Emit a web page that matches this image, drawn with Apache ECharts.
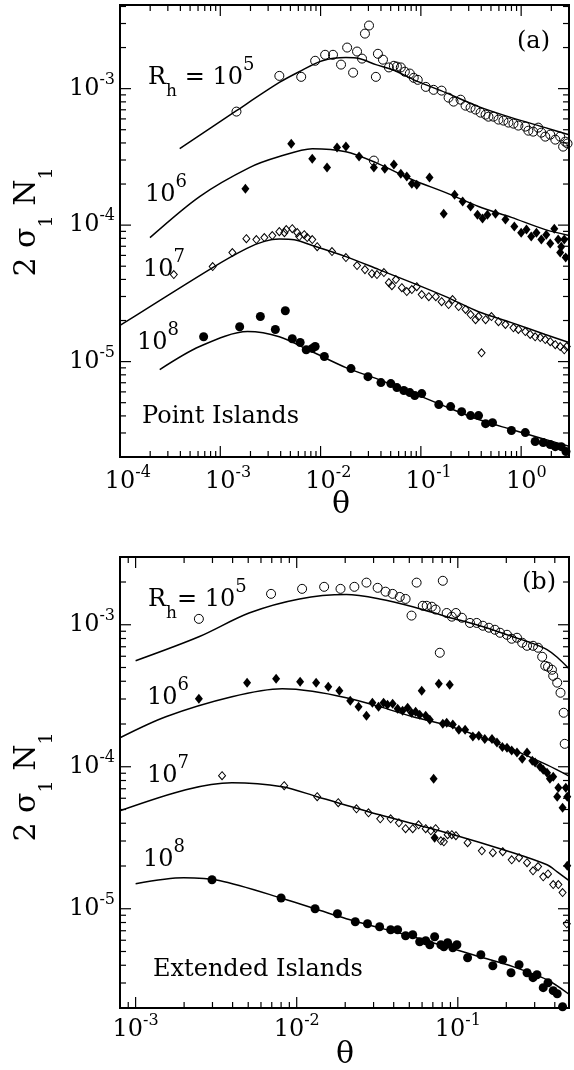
<!DOCTYPE html>
<html>
<head>
<meta charset="utf-8">
<script src="https://cdn.jsdelivr.net/npm/echarts@6/dist/echarts.min.js"></script>
<style>
  html, body { margin: 0; padding: 0; background: #fff; }
  #chart { width: 574px; height: 1070px; }
</style>
</head>
<body>
<div id="chart"></div>
<script>
// ---------- Panel (a): point islands ----------
const pointRh5 = [[1.45e-3,6.79e-4],[3.88e-3,1.24e-3],[6.41e-3,1.22e-3],[8.83e-3,1.60e-3],[1.11e-2,1.77e-3],[1.33e-2,1.77e-3],[1.60e-2,1.50e-3],[1.84e-2,2.0e-3],[2.11e-2,1.31e-3],[2.31e-2,1.87e-3],[2.59e-2,1.66e-3],[2.77e-2,2.53e-3],[3.04e-2,2.90e-3],[3.40e-2,2.97e-4],[3.56e-2,1.22e-3],[3.73e-2,1.80e-3],[4.19e-2,1.63e-3],[4.80e-2,1.43e-3],[5.38e-2,1.47e-3],[5.77e-2,1.45e-3],[6.31e-2,1.43e-3],[6.92e-2,1.33e-3],[7.76e-2,1.29e-3],[8.49e-2,1.20e-3],[9.31e-2,1.16e-3],[0.112,1.03e-3],[0.134,9.8e-4],[0.161,9.67e-4],[0.189,8.59e-4],[0.212,8.03e-4],[0.249,8.3e-4],[0.279,7.5e-4],[0.313,7.26e-4],[0.351,7.02e-4],[0.394,6.67e-4],[0.442,6.45e-4],[0.472,6.23e-4],[0.530,6.23e-4],[0.594,5.93e-4],[0.666,5.83e-4],[0.747,5.64e-4],[0.838,5.54e-4],[0.938,5.36e-4],[1.10,5.27e-4],[1.18,4.92e-4],[1.32,4.84e-4],[1.48,5.18e-4],[1.59,4.76e-4],[1.74,4.45e-4],[1.95,4.6e-4],[2.19,4.23e-4],[2.45,4.45e-4],[2.62,3.76e-4],[2.75,4.09e-4],[2.9,3.96e-4]];
const fitRh5 = [[3.94e-4,3.63e-4],[1.45e-3,6.9e-4],[3.88e-3,1.11e-3],[6.12e-3,1.33e-3],[1.04e-2,1.60e-3],[1.79e-2,1.69e-3],[2.42e-2,1.66e-3],[3.56e-2,1.50e-3],[5.14e-2,1.38e-3],[9.53e-2,1.12e-3],[0.177,9.35e-4],[0.376,7.38e-4],[0.80,6.13e-4],[1.74,5.18e-4],[3.0,4.6e-4]];

const pointRh6 = [[1.78e-3,1.85e-4],[5.1e-3,3.95e-4],[8.26e-3,3.07e-4],[1.16e-2,2.64e-4],[1.46e-2,3.70e-4],[1.79e-2,3.76e-4],[2.42e-2,3.18e-4],[3.40e-2,2.64e-4],[4.37e-2,2.59e-4],[5.38e-2,2.78e-4],[6.31e-2,2.38e-4],[7.24e-2,2.27e-4],[8.13e-2,2.01e-4],[9.1e-2,1.98e-4],[0.122,2.23e-4],[0.169,1.21e-4],[0.217,1.67e-4],[0.261,1.49e-4],[0.313,1.37e-4],[0.367,1.19e-4],[0.412,1.12e-4],[0.461,1.19e-4],[0.555,1.21e-4],[0.697,1.10e-4],[0.855,9.75e-5],[1.00,8.81e-5],[1.13,9.27e-5],[1.26,8.24e-5],[1.42,8.81e-5],[1.59,7.83e-5],[1.78,8.51e-5],[1.95,7.32e-5],[2.14,9.42e-5],[2.34,7.83e-5],[2.51,6.95e-5],[2.69,7.83e-5],[2.45,6.29e-5],[2.78,5.78e-5]];
const fitRh6 = [[1.99e-4,8.1e-5],[6.22e-4,1.62e-4],[1.95e-3,2.64e-4],[3.88e-3,3.18e-4],[8.26e-3,3.63e-4],[1.79e-2,3.45e-4],[3.56e-2,2.87e-4],[8.13e-2,2.16e-4],[0.177,1.73e-4],[0.376,1.37e-4],[0.80,1.14e-4],[1.74,9.27e-5],[3.0,8.4e-5]];

const pointRh7 = [[3.44e-4,4.34e-5],[8.4e-4,4.97e-5],[1.32e-3,6.29e-5],[1.82e-3,7.96e-5],[2.29e-3,7.83e-5],[2.75e-3,8.1e-5],[3.30e-3,8.38e-5],[3.88e-3,8.96e-5],[4.36e-3,8.81e-5],[4.55e-3,9.27e-5],[5.22e-3,9.42e-5],[5.86e-3,8.81e-5],[6.12e-3,8.24e-5],[6.87e-3,8.51e-5],[7.36e-3,8.1e-5],[8.26e-3,7.83e-5],[9.25e-3,6.95e-5],[1.30e-2,6.4e-5],[1.79e-2,5.78e-5],[2.31e-2,5.05e-5],[2.77e-2,4.72e-5],[3.25e-2,4.41e-5],[3.65e-2,4.34e-5],[4.28e-2,4.49e-5],[4.80e-2,3.79e-5],[5.14e-2,3.6e-5],[5.64e-2,3.99e-5],[6.46e-2,3.48e-5],[7.24e-2,3.26e-5],[8.13e-2,3.37e-5],[9.1e-2,3.54e-5],[0.102,3.1e-5],[0.120,2.99e-5],[0.141,2.99e-5],[0.161,2.75e-5],[0.189,2.62e-5],[0.207,2.85e-5],[0.238,2.53e-5],[0.279,2.41e-5],[0.313,2.21e-5],[0.351,2.03e-5],[0.376,2.14e-5],[0.442,2.03e-5],[0.506,2.14e-5],[0.594,1.96e-5],[0.697,1.87e-5],[0.838,1.77e-5],[0.938,1.72e-5],[1.10,1.66e-5],[1.23,1.58e-5],[1.38,1.52e-5],[1.55,1.5e-5],[1.74,1.45e-5],[1.95,1.40e-5],[2.19,1.33e-5],[2.45,1.29e-5],[2.69,1.22e-5],[2.85,1.29e-5],[0.403,1.16e-5]];
const fitRh7 = [[1e-4,1.84e-5],[8.4e-4,4.89e-5],[1.82e-3,6.73e-5],[2.75e-3,7.6e-5],[3.88e-3,7.9e-5],[5.47e-3,7.8e-5],[8.26e-3,7.1e-5],[1.79e-2,5.88e-5],[3.82e-2,4.72e-5],[8.13e-2,3.79e-5],[0.177,2.99e-5],[0.376,2.32e-5],[0.80,1.93e-5],[1.74,1.58e-5],[3.0,1.38e-5]];

const pointRh8 = [[6.82e-4,1.52e-5],[1.56e-3,1.80e-5],[2.51e-3,2.14e-5],[3.54e-3,1.72e-5],[4.45e-3,2.36e-5],[5.22e-3,1.47e-5],[6.26e-3,1.38e-5],[7.19e-3,1.22e-5],[8.26e-3,1.25e-5],[8.83e-3,1.29e-5],[1.09e-2,1.09e-5],[2.01e-2,8.89e-6],[2.97e-2,7.76e-6],[4.0e-2,7.02e-6],[5.02e-2,6.9e-6],[5.77e-2,6.45e-6],[6.76e-2,6.14e-6],[7.76e-2,5.93e-6],[8.69e-2,5.64e-6],[0.102,5.83e-6],[0.151,4.84e-6],[0.198,4.68e-6],[0.255,4.3e-6],[0.313,4.02e-6],[0.376,4.02e-6],[0.442,3.51e-6],[0.518,3.57e-6],[0.80,3.13e-6],[1.10,3.02e-6],[1.38,2.6e-6],[1.66,2.55e-6],[1.95,2.47e-6],[2.19,2.38e-6],[2.51,2.38e-6],[2.8,2.19e-6]];
const fitRh8 = [[2.49e-4,8.74e-6],[6.22e-4,1.29e-5],[1.87e-3,1.66e-5],[3.88e-3,1.52e-5],[8.26e-3,1.18e-5],[1.79e-2,9.04e-6],[3.82e-2,7.38e-6],[8.13e-2,5.93e-6],[0.177,4.68e-6],[0.376,3.76e-6],[0.80,3.18e-6],[1.74,2.69e-6],[3.0,2.4e-6]];

// ---------- Panel (b): extended islands ----------
const extRh5 = [[2.47e-3,1.10e-3],[6.93e-3,1.65e-3],[1.08e-2,1.79e-3],[1.48e-2,1.85e-3],[1.87e-2,1.79e-3],[2.28e-2,1.85e-3],[2.71e-2,1.98e-3],[3.18e-2,1.82e-3],[3.56e-2,1.71e-3],[3.94e-2,1.65e-3],[4.36e-2,1.57e-3],[4.74e-2,1.52e-3],[5.16e-2,1.16e-3],[5.55e-2,1.98e-3],[6.06e-2,1.36e-3],[6.41e-2,1.36e-3],[6.90e-2,1.34e-3],[7.28e-2,1.28e-3],[7.73e-2,6.35e-4],[8.07e-2,2.04e-3],[8.53e-2,1.21e-3],[9.18e-2,1.14e-3],[9.73e-2,1.21e-3],[0.106,1.12e-3],[0.119,1.03e-3],[0.131,1.03e-3],[0.143,9.84e-4],[0.156,9.53e-4],[0.170,9.22e-4],[0.183,8.78e-4],[0.202,8.5e-4],[0.216,7.97e-4],[0.233,8.1e-4],[0.251,7.47e-4],[0.269,7.11e-4],[0.293,7.11e-4],[0.315,6.89e-4],[0.334,5.95e-4],[0.349,5.14e-4],[0.363,5.06e-4],[0.384,4.82e-4],[0.391,4.37e-4],[0.414,3.91e-4],[0.434,3.32e-4],[0.454,2.40e-4],[0.461,1.45e-4]];
const extFitRh5 = [[1.0e-3,5.58e-4],[2.47e-3,8.23e-4],[5.06e-3,1.21e-3],[1.04e-2,1.52e-3],[2.03e-2,1.63e-3],[3.27e-2,1.52e-3],[5.25e-2,1.34e-3],[8.53e-2,1.14e-3],[0.137,9.84e-4],[0.220,8.23e-4],[0.300,7.3e-4],[0.358,6.67e-4],[0.414,5.9e-4],[0.49,4.9e-4]];

const extRh6 = [[2.47e-3,3.01e-4],[4.92e-3,3.91e-4],[7.45e-3,4.17e-4],[1.05e-2,3.97e-4],[1.32e-2,3.91e-4],[1.57e-2,3.66e-4],[1.84e-2,3.43e-4],[2.15e-2,2.92e-4],[2.42e-2,2.65e-4],[2.71e-2,2.29e-4],[2.95e-2,2.82e-4],[3.22e-2,2.65e-4],[3.46e-2,2.82e-4],[3.66e-2,2.73e-4],[3.94e-2,2.78e-4],[4.23e-2,2.56e-4],[4.54e-2,2.48e-4],[4.88e-2,2.60e-4],[5.16e-2,2.40e-4],[5.47e-2,2.44e-4],[5.8e-2,2.32e-4],[5.97e-2,3.43e-4],[6.32e-2,2.29e-4],[6.70e-2,2.14e-4],[7.08e-2,8.23e-5],[7.18e-2,3.16e-5],[7.62e-2,3.84e-4],[8.07e-2,2.01e-4],[8.53e-2,2.04e-4],[8.91e-2,3.78e-4],[9.31e-2,1.98e-4],[0.1015,1.82e-4],[0.111,1.82e-4],[0.124,1.63e-4],[0.135,1.65e-4],[0.147,1.57e-4],[0.163,1.57e-4],[0.175,1.48e-4],[0.189,1.38e-4],[0.202,1.36e-4],[0.216,1.30e-4],[0.233,1.26e-4],[0.251,1.14e-4],[0.269,1.26e-4],[0.290,1.10e-4],[0.302,1.07e-4],[0.324,1.0e-4],[0.339,9.52e-5],[0.358,9.08e-5],[0.373,8.23e-5],[0.391,8.51e-5],[0.421,7.11e-5],[0.414,6.15e-5],[0.468,7.11e-5],[0.478,6.15e-5],[0.447,5.14e-5],[0.478,2.01e-5]];
const extFitRh6 = [[8e-4,1.60e-4],[1.54e-3,2.25e-4],[3.96e-3,3.11e-4],[8.13e-3,3.54e-4],[1.25e-2,3.40e-4],[2.03e-2,3.06e-4],[3.27e-2,2.65e-4],[5.25e-2,2.25e-4],[8.53e-2,1.96e-4],[0.137,1.63e-4],[0.220,1.32e-4],[0.358,1.03e-4],[0.49,8.6e-5]];

const extRh7 = [[3.44e-3,8.65e-5],[8.36e-3,7.35e-5],[1.34e-2,6.15e-5],[1.81e-2,5.58e-5],[2.35e-2,5.06e-5],[2.79e-2,4.74e-5],[3.30e-2,4.3e-5],[3.83e-2,4.3e-5],[4.31e-2,4.03e-5],[4.74e-2,3.66e-5],[5.25e-2,3.66e-5],[5.71e-2,3.9e-5],[6.32e-2,3.66e-5],[6.80e-2,3.54e-5],[7.28e-2,3.66e-5],[7.85e-2,3.01e-5],[8.19e-2,2.96e-5],[8.65e-2,3.32e-5],[9.18e-2,3.32e-5],[9.73e-2,3.27e-5],[0.115,2.92e-5],[0.141,2.56e-5],[0.165,2.48e-5],[0.190,2.52e-5],[0.216,2.21e-5],[0.240,2.29e-5],[0.269,2.11e-5],[0.293,1.85e-5],[0.315,1.98e-5],[0.339,1.68e-5],[0.363,1.76e-5],[0.391,1.48e-5],[0.421,1.48e-5],[0.447,1.30e-5],[0.475,7.84e-6]];
const extFitRh7 = [[8e-4,4.9e-5],[2.05e-3,6.89e-5],[3.96e-3,7.71e-5],[8.13e-3,7.23e-5],[1.34e-2,6.15e-5],[3.27e-2,4.59e-5],[8.53e-2,3.43e-5],[0.220,2.48e-5],[0.358,2.04e-5],[0.414,1.82e-5],[0.49,1.58e-5]];

const extRh8 = [[2.98e-3,1.60e-5],[8.0e-3,1.19e-5],[1.30e-2,1.0e-5],[1.79e-2,9.22e-6],[2.31e-2,8.1e-6],[2.75e-2,7.84e-6],[3.27e-2,7.47e-6],[3.83e-2,7.11e-6],[4.23e-2,7.11e-6],[4.74e-2,6.45e-6],[5.25e-2,6.56e-6],[5.8e-2,5.86e-6],[6.32e-2,5.95e-6],[6.70e-2,5.58e-6],[7.18e-2,6.35e-6],[7.85e-2,5.58e-6],[8.19e-2,5.4e-6],[8.65e-2,5.77e-6],[9.31e-2,5.31e-6],[9.87e-2,5.58e-6],[0.115,4.52e-6],[0.139,4.74e-6],[0.165,3.97e-6],[0.190,4.37e-6],[0.214,3.54e-6],[0.240,4.03e-6],[0.269,3.54e-6],[0.293,3.27e-6],[0.310,3.43e-6],[0.339,2.78e-6],[0.363,3.01e-6],[0.391,2.65e-6],[0.414,2.52e-6],[0.447,2.04e-6]];
const extFitRh8 = [[1.0e-3,1.50e-5],[1.99e-3,1.65e-5],[3.3e-3,1.58e-5],[8.0e-3,1.19e-5],[2.03e-2,8.51e-6],[5.25e-2,6.35e-6],[0.137,4.59e-6],[0.220,3.91e-6],[0.358,3.16e-6],[0.49,2.5e-6]];

// Axis ranges
const rangeA = { x: [1e-4, 3], y: [2e-6, 4.1e-3] };
const rangeB = { x: [8e-4, 0.49], y: [2e-6, 3e-3] };
const minorSteps = [2, 3, 4, 5, 6, 7, 8, 9];

const F = 'DejaVu Serif';

// Major (decade) and minor (2..9 x decade) tick values inside a log range
function logTicks(lo, hi) {
  const out = [];
  for (let e = Math.floor(Math.log10(lo)); e <= Math.ceil(Math.log10(hi)); e++) {
    const base = Math.pow(10, e);
    if (base >= lo * 0.9999 && base <= hi * 1.0001) out.push([base, 1]);
    minorSteps.forEach(function (m) {
      const v = m * base;
      if (v > lo * 1.0001 && v < hi * 0.9999) out.push([v, 0]);
    });
  }
  return out;
}

function tickData(r) {
  const d = [];
  logTicks(r.x[0], r.x[1]).forEach(function (t) { d.push([t[0], r.y[0], 0, t[1]]); });
  logTicks(r.y[0], r.y[1]).forEach(function (t) { d.push([r.x[0], t[0], 1, t[1]]); });
  return d;
}

function renderTick(params, api) {
  const cs = params.coordSys;
  const kind = api.value(2);
  const len = api.value(3) ? 11 : 6;
  const st = { stroke: '#000', lineWidth: 1.2 };
  const p = api.coord([api.value(0), api.value(1)]);
  if (kind === 0) {
    const x = p[0];
    const yb = cs.y + cs.height, yt = cs.y;
    return { type: 'group', children: [
      { type: 'line', shape: { x1: x, y1: yb, x2: x, y2: yb - len }, style: st },
      { type: 'line', shape: { x1: x, y1: yt, x2: x, y2: yt + len }, style: st }
    ] };
  }
  const y = p[1];
  const xl = cs.x, xr = cs.x + cs.width;
  return { type: 'group', children: [
    { type: 'line', shape: { x1: xl, y1: y, x2: xl + len, y2: y }, style: st },
    { type: 'line', shape: { x1: xr, y1: y, x2: xr - len, y2: y }, style: st }
  ] };
}

function isDecade(v) {
  const l = Math.log10(v);
  return Math.abs(l - Math.round(l)) < 1e-6;
}

const tickRich = {
  b: { fontFamily: F, fontSize: 24, lineHeight: 34, color: '#000' },
  p: { fontFamily: F, fontSize: 16, lineHeight: 20, color: '#000', verticalAlign: 'top' },
  q: { fontFamily: F, fontSize: 16, lineHeight: 20, color: 'rgba(0,0,0,0)', verticalAlign: 'top' }
};

function yLabel(v) {
  if (!isDecade(v)) return '';
  return '{b|10}{p|' + Math.round(Math.log10(v)) + '}';
}
function xLabelA(v) {
  if (!isDecade(v)) return '';
  const e = Math.round(Math.log10(v));
  return '{q|' + e + '}{b|10}{p|' + e + '}';
}

function logAxis(gridIndex, r, formatter, margin) {
  return {
    type: 'log', logBase: 10, gridIndex: gridIndex, min: r[0], max: r[1],
    axisLine: { show: false }, axisTick: { show: false }, splitLine: { show: false },
    axisLabel: { formatter: formatter, rich: tickRich, margin: margin }
  };
}

const openStyle = { color: 'rgba(0,0,0,0)', borderColor: '#000', borderWidth: 1, opacity: 1 };
const fillStyle = { color: '#000', opacity: 1 };

function dots(grid, data, symbol, size, style) {
  return { type: 'scatter', xAxisIndex: grid, yAxisIndex: grid, data: data, symbol: symbol,
    symbolSize: size, itemStyle: style, silent: true, z: 4 };
}
function fit(grid, data) {
  return { type: 'line', xAxisIndex: grid, yAxisIndex: grid, data: data, smooth: 0.3,
    showSymbol: false, symbol: 'none', silent: true, z: 3,
    lineStyle: { color: '#000', width: 1.5 } };
}
function ticks(grid, r) {
  return { type: 'custom', xAxisIndex: grid, yAxisIndex: grid, data: tickData(r),
    renderItem: renderTick, silent: true, z: 5, clip: false };
}

const noteRich = {
  m: { fontFamily: F, fontSize: 24, lineHeight: 44, color: '#000' },
  sup: { fontFamily: F, fontSize: 18, lineHeight: 32, verticalAlign: 'top', color: '#000' },
  sub: { fontFamily: F, fontSize: 17, lineHeight: 16, verticalAlign: 'bottom', color: '#000' }
};
function note(x, y, text, align) {
  return { type: 'text', x: x, y: y, silent: true, z: 10,
    style: { text: text, rich: noteRich, fontFamily: F, fontSize: 24, fill: '#000',
      align: align || 'left', verticalAlign: 'middle' } };
}
const titleRich = {
  t: { fontFamily: F, fontSize: 30, lineHeight: 60, color: '#000' },
  s: { fontFamily: F, fontSize: 19, lineHeight: 20, verticalAlign: 'bottom', color: '#000' }
};
function yTitle(x, y) {
  return { type: 'text', x: x, y: y, rotation: Math.PI / 2, silent: true, z: 10,
    style: { text: '{t|2 σ}{s|1}{t| N}{s|1}', rich: titleRich, fontFamily: F, fontSize: 30,
      fill: '#000', align: 'center', verticalAlign: 'middle' } };
}
function theta(x, y) {
  return { type: 'text', x: x, y: y, silent: true, z: 10,
    style: { text: 'θ', fontFamily: F, fontSize: 30, fill: '#000', align: 'center', verticalAlign: 'middle' } };
}

const chart = echarts.init(document.getElementById('chart'), null, { renderer: 'canvas' });
chart.setOption({
  animation: false,
  backgroundColor: '#fff',
  grid: [
    { left: 120, top: 5, width: 449, height: 452, show: true, borderColor: '#000', borderWidth: 2, backgroundColor: 'rgba(0,0,0,0)' },
    { left: 120, top: 557, width: 449, height: 451, show: true, borderColor: '#000', borderWidth: 2, backgroundColor: 'rgba(0,0,0,0)' }
  ],
  xAxis: [
    logAxis(0, rangeA.x, xLabelA, 8),
    logAxis(1, rangeB.x, yLabel, 5)
  ],
  yAxis: [
    logAxis(0, rangeA.y, yLabel, 5),
    logAxis(1, rangeB.y, yLabel, 5)
  ],
  series: [
    fit(0, fitRh5), fit(0, fitRh6), fit(0, fitRh7), fit(0, fitRh8),
    dots(0, pointRh5, 'circle', 9, openStyle),
    dots(0, pointRh6, 'diamond', [8, 10], fillStyle),
    dots(0, pointRh7, 'diamond', [7, 8], openStyle),
    dots(0, pointRh8, 'circle', 9, fillStyle),
    ticks(0, rangeA),
    fit(1, extFitRh5), fit(1, extFitRh6), fit(1, extFitRh7), fit(1, extFitRh8),
    dots(1, extRh5, 'circle', 9, openStyle),
    dots(1, extRh6, 'diamond', [8, 10], fillStyle),
    dots(1, extRh7, 'diamond', [7, 8], openStyle),
    dots(1, extRh8, 'circle', 9, fillStyle),
    ticks(1, rangeB)
  ],
  graphic: [
    note(148, 78, '{m|R}{sub|h}{m| = 10}{sup|5}'),
    note(145, 195, '{m|10}{sup|6}'),
    note(143, 270, '{m|10}{sup|7}'),
    note(137, 343, '{m|10}{sup|8}'),
    note(142, 417, '{m|Point Islands}'),
    note(517, 42, '{m|(a)}'),
    note(148, 600, '{m|R}{sub|h}{m|= 10}{sup|5}'),
    note(147, 698, '{m|10}{sup|6}'),
    note(147, 776, '{m|10}{sup|7}'),
    note(143, 860, '{m|10}{sup|8}'),
    note(153, 970, '{m|Extended Islands}'),
    note(522, 583, '{m|(b)}'),
    yTitle(27, 222),
    yTitle(27, 787),
    theta(341, 505),
    theta(345, 1055)
  ]
});
</script>
</body>
</html>
